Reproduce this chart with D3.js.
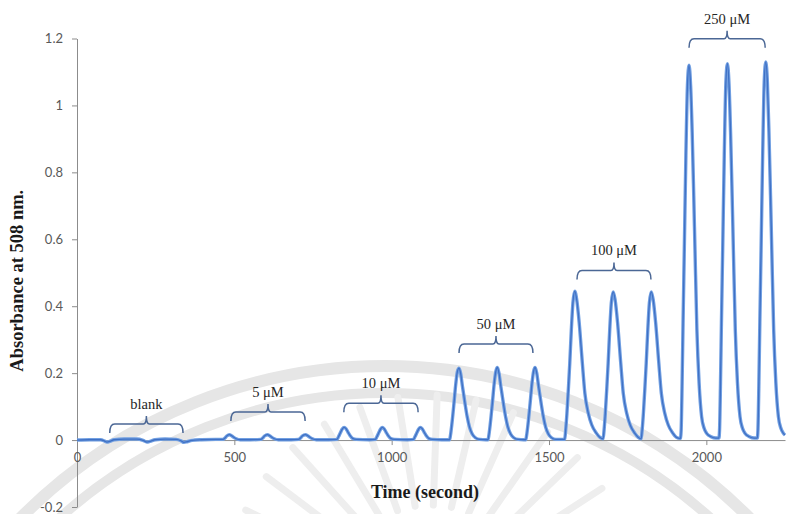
<!DOCTYPE html>
<html>
<head>
<meta charset="utf-8">
<script src="https://cdn.jsdelivr.net/npm/d3@7"></script>
<style>
  html, body { margin: 0; padding: 0; background: #ffffff; }
  svg { display: block; }
</style>
</head>
<body>
<svg id="chart" width="786" height="514"></svg>
<script>
// Axis ticks
const timeTicks = [0, 500, 1000, 1500, 2000];
const absTicks = [-0.2, 0, 0.2, 0.4, 0.6, 0.8, 1, 1.2];

// Injection groups and the braces that mark them
const groupLabels = ["blank", "5 μM", "10 μM", "50 μM", "100 μM", "250 μM"];
const bracketFrom = [104, 489, 848, 1214, 1589, 1945];
const bracketTo = [337, 725, 1084, 1449, 1824, 2187];
const bracketLevel = [0.048, 0.084, 0.110, 0.287, 0.507, 1.199];

// Recorded trace, [time (s), absorbance], one array per segment
const blankTrace = [[0,0],[40,0.001],[75,0.001],[88,-0.003],[95,-0.006],[104,-0.004],[118,0.001],[150,0.003],[190,0.003],[210,-0.001],[222,-0.006],[232,-0.004],[248,0.001],[280,0.003],[315,0.002],[330,-0.002],[340,-0.007],[350,-0.005],[365,-0.001],[395,0.001],[440,0.002],[458,0.002]];
const trace5 = [[464,0.002],[470,0.006],[476,0.012],[484,0.016],[490,0.014],[497,0.009],[506,0.004],[519,0.001],[550,0.001],[584,0.002],[590,0.006],[596,0.012],[605,0.016],[611,0.014],[618,0.009],[627,0.004],[640,0.001],[680,0.001],[704,0.002],[710,0.006],[716,0.012],[726,0.016],[732,0.014],[739,0.009],[748,0.004],[761,0.001],[800,0.001]];
const trace10 = [[826,0.002],[831,0.01],[837,0.022],[843,0.033],[849,0.038],[855,0.034],[861,0.024],[868,0.013],[876,0.005],[888,0.002],[930,0.001],[948,0.002],[953,0.01],[959,0.022],[965,0.033],[970,0.038],[976,0.034],[982,0.024],[989,0.013],[997,0.005],[1009,0.002],[1050,0.001],[1069,0.002],[1074,0.01],[1080,0.022],[1086,0.033],[1091,0.038],[1097,0.034],[1103,0.024],[1110,0.013],[1118,0.005],[1130,0.002],[1160,0.001]];
const trace50 = [[1184,0.001],[1187,0.015],[1191,0.045],[1198,0.11],[1204,0.17],[1209,0.205],[1214,0.215],[1219,0.2],[1225,0.16],[1233,0.11],[1240,0.07],[1247,0.04],[1256,0.018],[1266,0.007],[1280,0.002],[1300,0.001],
  [1306,0.001],[1309,0.015],[1313,0.045],[1320,0.11],[1326,0.17],[1331,0.205],[1336,0.217],[1341,0.2],[1347,0.16],[1355,0.11],[1362,0.07],[1369,0.04],[1378,0.018],[1388,0.007],[1402,0.002],[1420,0.001],
  [1426,0.001],[1429,0.015],[1433,0.045],[1440,0.11],[1446,0.17],[1451,0.205],[1456,0.217],[1461,0.2],[1467,0.16],[1475,0.11],[1482,0.07],[1489,0.04],[1498,0.018],[1508,0.007],[1522,0.002],[1545,0.002]];
const trace100 = [[1550,0.003],[1553,0.03],[1557,0.08],[1562,0.16],[1566,0.23],[1571,0.33],[1576,0.41],[1582,0.445],[1588,0.42],[1596,0.35],[1606,0.23],[1614,0.14],[1625,0.08],[1636,0.045],[1651,0.02],[1662,0.008],[1672,0.004],
  [1675,0.03],[1679,0.08],[1684,0.16],[1688,0.23],[1693,0.33],[1698,0.41],[1704,0.443],[1710,0.42],[1718,0.35],[1728,0.23],[1736,0.14],[1747,0.08],[1758,0.045],[1773,0.02],[1784,0.008],[1793,0.004],
  [1796,0.03],[1800,0.08],[1805,0.16],[1809,0.23],[1814,0.33],[1819,0.41],[1825,0.443],[1831,0.42],[1839,0.35],[1849,0.23],[1857,0.14],[1868,0.08],[1879,0.045],[1894,0.02],[1905,0.008],[1916,0.005]];
const trace250 = [[1918,0.006],[1920,0.03],[1923,0.17],[1926,0.35],[1930,0.57],[1935,0.85],[1940,1.06],[1945,1.12],[1950,1.06],[1955,0.92],[1960,0.73],[1964,0.567],[1970,0.33],[1977,0.17],[1985,0.07],[1993,0.035],[2001,0.02],[2015,0.01],[2030,0.006],[2040,0.006],
  [2042,0.03],[2045,0.17],[2048,0.35],[2052,0.57],[2057,0.85],[2062,1.065],[2067,1.125],[2072,1.065],[2077,0.92],[2082,0.73],[2086,0.567],[2092,0.33],[2099,0.17],[2107,0.07],[2115,0.035],[2123,0.02],[2137,0.01],[2152,0.006],[2162,0.006],
  [2164,0.03],[2167,0.17],[2170,0.35],[2174,0.57],[2179,0.85],[2184,1.07],[2189,1.13],[2194,1.07],[2199,0.92],[2204,0.73],[2208,0.567],[2214,0.33],[2221,0.17],[2229,0.07],[2237,0.035],[2245,0.02],[2250,0.015]];

const svg = d3.select("#chart");

// Faint emblem in the background
const emblem = svg.append("g").attr("fill", "none");
emblem.append("circle").attr("cx", 385).attr("cy", 879).attr("r", 513)
  .attr("stroke", "#e6e6e6").attr("stroke-width", 12);
emblem.append("circle").attr("cx", 385).attr("cy", 879).attr("r", 486)
  .attr("stroke", "#e6e6e6").attr("stroke-width", 10);
d3.range(-165, -10, 11).forEach(a => {
  const r = Math.PI / 180 * a;
  emblem.append("line")
    .attr("x1", 430 + 95 * Math.cos(r)).attr("y1", 600 + 95 * Math.sin(r))
    .attr("x2", 430 + 205 * Math.cos(r)).attr("y2", 600 + 205 * Math.sin(r))
    .attr("stroke", "#eeeeee").attr("stroke-width", 7).attr("stroke-linecap", "round");
});

const x = d3.scaleLinear().domain([0, 2250]).range([77, 785]);
const y = d3.scaleLinear().domain([-0.2, 1.2]).range([507, 38.5]);

const tickFont = "Lato, 'Open Sans', sans-serif";
const axisColor = "#8c8c8c";

// Y axis
const yAxis = svg.append("g")
  .attr("transform", `translate(${x(0)},0)`)
  .call(d3.axisLeft(y).tickValues(absTicks).tickSize(5).tickSizeOuter(0).tickPadding(9)
    .tickFormat(d => String(+d.toFixed(1))));

// X axis along zero absorbance
const xAxis = svg.append("g")
  .attr("transform", `translate(0,${y(0)})`)
  .call(d3.axisBottom(x).tickValues(timeTicks).tickSize(5).tickSizeOuter(0).tickPadding(8)
    .tickFormat(d3.format("d")));

[xAxis, yAxis].forEach(g => {
  g.select(".domain").attr("stroke", axisColor).attr("stroke-width", 1);
  g.selectAll(".tick line").attr("stroke", axisColor);
  g.selectAll(".tick text").attr("fill", "#595959").attr("font-family", tickFont).attr("font-size", 13);
});

// Trace
const trace = [].concat(blankTrace, trace5, trace10, trace50, trace100, trace250);
const line = d3.line().x(d => x(d[0])).y(d => y(d[1])).curve(d3.curveMonotoneX);
svg.append("path").datum(trace).attr("d", line)
  .attr("fill", "none").attr("stroke", "#72a0e2").attr("stroke-width", 3.4).attr("stroke-linejoin", "round");
svg.append("path").datum(trace).attr("d", line)
  .attr("fill", "none").attr("stroke", "#3f70c4").attr("stroke-width", 1.3).attr("stroke-linejoin", "round");

// Braces with concentration labels
groupLabels.forEach((label, i) => {
  const x1 = x(bracketFrom[i]), x2 = x(bracketTo[i]), xm = (x1 + x2) / 2, yb = y(bracketLevel[i]);
  const p = d3.path();
  p.moveTo(x1, yb + 9);
  p.quadraticCurveTo(x1, yb, x1 + 5, yb);
  p.lineTo(xm - 3, yb);
  p.quadraticCurveTo(xm, yb, xm, yb - 8);
  p.quadraticCurveTo(xm, yb, xm + 3, yb);
  p.lineTo(x2 - 5, yb);
  p.quadraticCurveTo(x2, yb, x2, yb + 9);
  svg.append("path").attr("d", p.toString())
    .attr("fill", "none").attr("stroke", "#4b6795").attr("stroke-width", 1.5);
  svg.append("text").attr("x", xm).attr("y", yb - 15)
    .attr("text-anchor", "middle")
    .attr("font-family", "'Liberation Serif', 'Times New Roman', serif")
    .attr("font-size", 14.5).attr("fill", "#262626")
    .text(label);
});

// Axis titles
svg.append("text")
  .attr("transform", `translate(23,${(y(-0.2) + y(1.2)) / 2 + 8}) rotate(-90)`)
  .attr("text-anchor", "middle")
  .attr("font-family", "'Liberation Serif', 'Times New Roman', serif")
  .attr("font-weight", "bold").attr("font-size", 18.5).attr("fill", "#1a1a1a")
  .text("Absorbance at 508 nm.");
svg.append("text")
  .attr("x", 425).attr("y", 498)
  .attr("text-anchor", "middle")
  .attr("font-family", "'Liberation Serif', 'Times New Roman', serif")
  .attr("font-weight", "bold").attr("font-size", 18).attr("fill", "#1a1a1a")
  .text("Time (second)");
</script>
</body>
</html>
